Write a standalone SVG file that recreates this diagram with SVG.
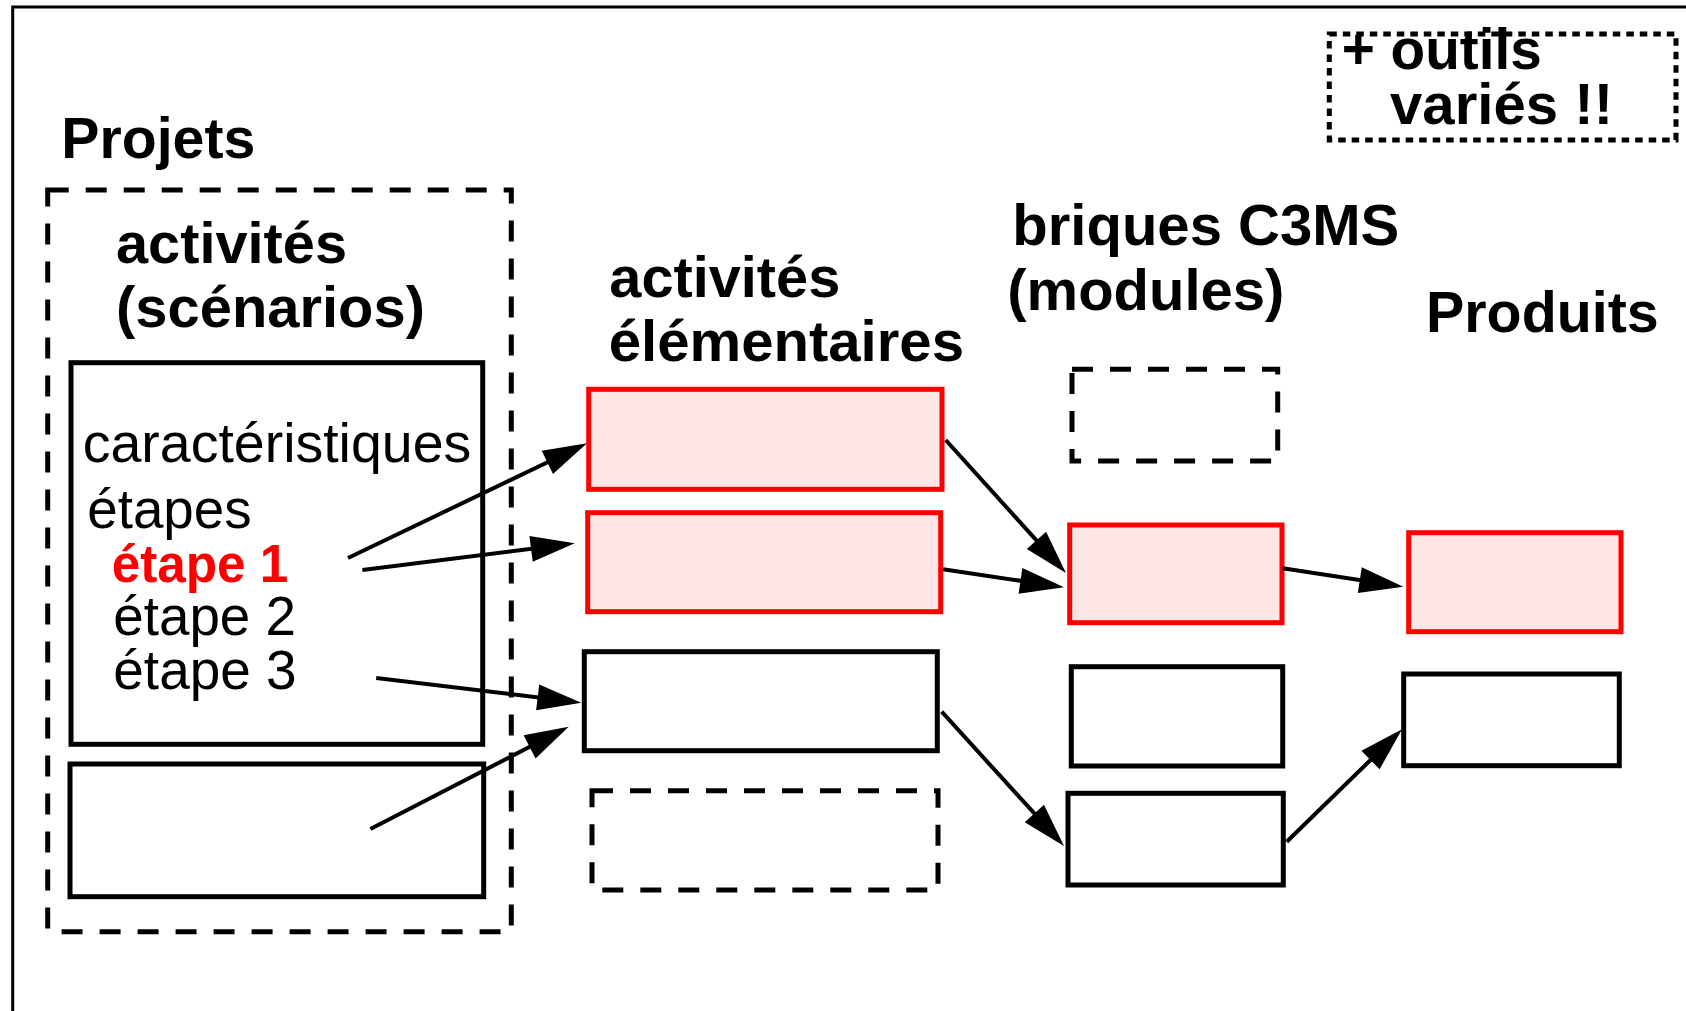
<svg xmlns="http://www.w3.org/2000/svg" width="1686" height="1011" viewBox="0 0 1686 1011">
<style>
.t{font-family:"Liberation Sans",Arial,Helvetica,sans-serif;fill:#000}
.b{font-weight:bold;font-size:58px}
.r{font-weight:normal;font-size:55px}
.red{fill:#ff0000}
.box{fill:none;stroke:#000;stroke-width:5}
.wbox{fill:#fff;stroke:#000;stroke-width:5}
.pink{fill:#ffe6e6;stroke:#ff0000;stroke-width:5}
.dash{fill:none;stroke:#000;stroke-width:5;stroke-dasharray:21 17}
.dot{fill:none;stroke:#000;stroke-width:5;stroke-dasharray:7.5 6}
.conn line{stroke:#000;stroke-width:4;marker-end:url(#ah)}
</style>
<defs>
<marker id="ah" markerUnits="userSpaceOnUse" markerWidth="44" markerHeight="26" refX="36" refY="13" orient="auto" overflow="visible">
<path d="M0,0 L44,13 L0,26 z" fill="#000"/>
</marker>
</defs>
<rect width="1686" height="1011" fill="#fff"/>
<path id="frame" d="M12.7,1011 V7 H1686" fill="none" stroke="#000" stroke-width="3"/>

<g id="outils">
<rect class="dot" x="1329.3" y="34" width="346.7" height="106"/>
<text class="t b" x="1341.7" y="69" textLength="200" lengthAdjust="spacingAndGlyphs">+ outils</text>
<text class="t b" x="1390" y="124" textLength="223" lengthAdjust="spacingAndGlyphs">variés !!</text>
</g>

<g id="projets">
<text class="t b" x="61.3" y="158.3" textLength="194" lengthAdjust="spacingAndGlyphs">Projets</text>
<rect class="dash" x="47.7" y="190" width="463.6" height="741.7"/>
<text class="t b" x="116" y="263.3" textLength="231" lengthAdjust="spacingAndGlyphs">activités</text>
<text class="t b" x="116" y="326.7" textLength="309" lengthAdjust="spacingAndGlyphs">(scénarios)</text>
</g>

<g id="scenario1">
<rect class="box" x="71" y="362.7" width="411.7" height="381.6"/>
<text class="t r" x="82.7" y="461.7" textLength="388.6" lengthAdjust="spacingAndGlyphs">caractéristiques</text>
<text class="t r" x="87.3" y="528.3" textLength="164.3" lengthAdjust="spacingAndGlyphs">étapes</text>
<text class="t red" x="111.7" y="581.7" font-weight="bold" font-size="53" textLength="176.7" lengthAdjust="spacingAndGlyphs">étape 1</text>
<text class="t r" x="113.3" y="634.5" textLength="182.7" lengthAdjust="spacingAndGlyphs">étape 2</text>
<text class="t r" x="113.3" y="689" textLength="183.4" lengthAdjust="spacingAndGlyphs">étape 3</text>
</g>
<g id="scenario2"><rect class="box" x="70" y="764" width="413.7" height="132.7"/></g>

<g id="elem-title">
<text class="t b" x="609.3" y="296.7" textLength="231" lengthAdjust="spacingAndGlyphs">activités</text>
<text class="t b" x="608.7" y="360.7" textLength="355.3" lengthAdjust="spacingAndGlyphs">élémentaires</text>
</g>
<g id="elem1"><rect class="pink" x="588.7" y="389.3" width="353.3" height="100"/></g>
<g id="elem2"><rect class="pink" x="587.7" y="512.7" width="353" height="99"/></g>
<g id="elem3"><rect class="wbox" x="584.3" y="651.7" width="353" height="99"/></g>
<g id="elem4"><rect class="dash" x="592" y="790.7" width="346" height="99.3"/></g>

<g id="mod-title">
<text class="t b" x="1012.3" y="245" textLength="387" lengthAdjust="spacingAndGlyphs">briques C3MS</text>
<text class="t b" x="1007.3" y="310" textLength="277" lengthAdjust="spacingAndGlyphs">(modules)</text>
</g>
<g id="mod1"><rect class="dash" x="1072" y="369.3" width="205.7" height="91.7"/></g>
<g id="mod2"><rect class="pink" x="1069.7" y="525" width="212.3" height="97.7"/></g>
<g id="mod3"><rect class="wbox" x="1071.3" y="666.7" width="211.4" height="99.3"/></g>
<g id="mod4"><rect class="wbox" x="1068" y="793.3" width="215.3" height="91.7"/></g>

<g id="prod-title"><text class="t b" x="1426" y="331.7" textLength="232.7" lengthAdjust="spacingAndGlyphs">Produits</text></g>
<g id="prod1"><rect class="pink" x="1408.7" y="532.7" width="212.3" height="99"/></g>
<g id="prod2"><rect class="wbox" x="1403.7" y="674" width="215.6" height="91.7"/></g>

<g id="connectors" class="conn">
<line x1="348" y1="558" x2="579.8" y2="446.8"/>
<line x1="362.4" y1="570" x2="566.8" y2="544.3"/>
<line x1="376.2" y1="678" x2="573.4" y2="701.7"/>
<line x1="370.4" y1="829" x2="561.6" y2="730.4"/>
<line x1="945.7" y1="440" x2="1060.6" y2="567.1"/>
<line x1="943" y1="569.3" x2="1056.1" y2="586.1"/>
<line x1="1282.7" y1="568.3" x2="1395.4" y2="585.5"/>
<line x1="941.7" y1="711.7" x2="1058.6" y2="840.1"/>
<line x1="1286.7" y1="841.7" x2="1396.3" y2="734.9"/>
</g>
</svg>
